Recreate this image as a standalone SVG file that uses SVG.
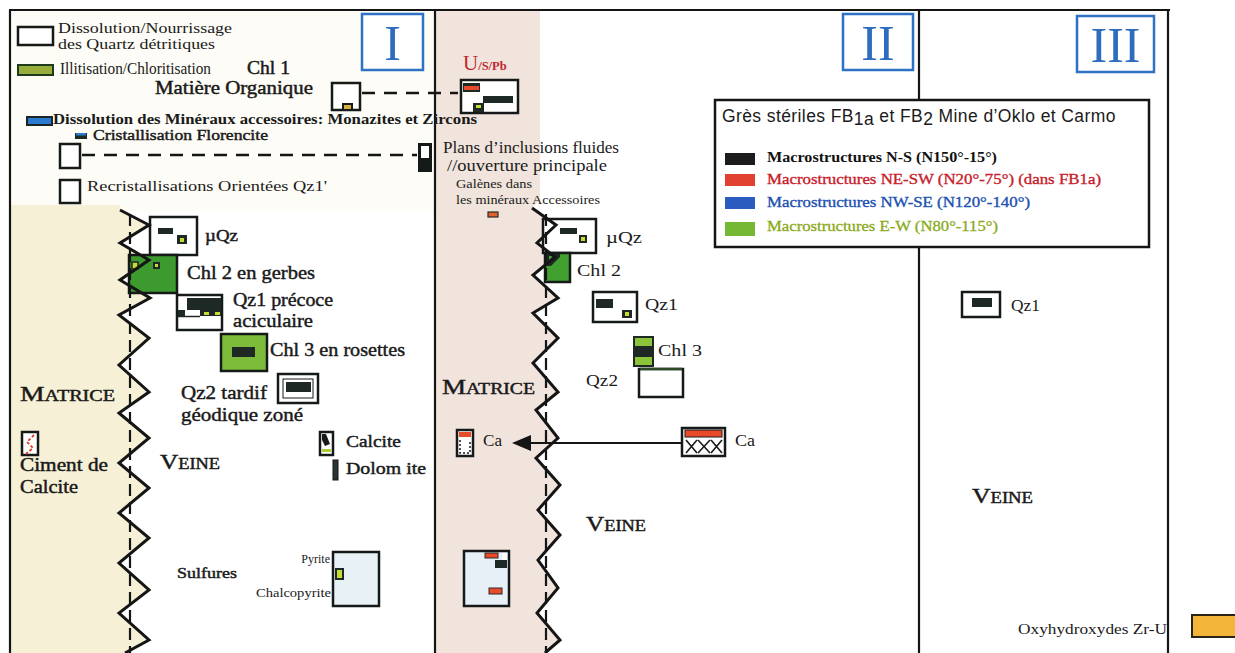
<svg xmlns="http://www.w3.org/2000/svg" width="1235" height="653" viewBox="0 0 1235 653">
<style>
.t{font-family:"Liberation Serif","DejaVu Serif",serif;fill:#1a1a1a}
.b{font-weight:bold}
.m{stroke:#1a1a1a;stroke-width:0.45}
.box{fill:#fff;stroke:#151a18;stroke-width:2.5}
.dk{fill:#1e2824}
.yg{fill:#c6dc34}
.frame{stroke:#151515;stroke-width:2.2;fill:none}
.num{fill:#fff;stroke:#2e72c6;stroke-width:2.5}
.numt{font-family:"Liberation Serif","DejaVu Serif",serif;fill:#2e6cc0;font-size:50px}
.dash{stroke:#151515;stroke-width:2.5;fill:none;stroke-dasharray:13 9}
.zig{stroke:#151515;stroke-width:3;fill:none;stroke-linejoin:miter}
.vd{stroke:#151515;stroke-width:2.2;fill:none;stroke-dasharray:12 6}
.lg{font-family:"Liberation Serif","DejaVu Serif",serif;font-size:15px}
</style>
<rect width="1235" height="653" fill="#ffffff"/>
<!-- backgrounds -->
<rect x="11" y="11" width="424" height="200" fill="#fdfcf6"/>
<path d="M11,205 L120,205 120,210 149,225 120,243 149,260 120,280 150,298 119,315 149,338 119,365 149,392 119,413 149,438 119,463 149,488 119,513 149,538 119,563 149,590 119,613 149,640 125,653 11,653 Z" fill="#f6f1d6"/>
<path d="M436,11 L540,11 540,200 532,208 556,225 537,243 555,257 533,275 558,298 533,313 558,338 533,363 558,392 536,410 558,438 536,458 560,485 538,510 560,535 538,560 558,588 537,613 560,640 545,653 436,653 Z" fill="#f0e4dc"/>
<!-- frame -->
<g id="frame">
<path class="frame" d="M9,10 L1170,10"/>
<path class="frame" d="M10,10 L10,653"/>
<path class="frame" d="M435,10 L435,653"/>
<path class="frame" d="M919,10 L919,653"/>
<path class="frame" d="M1168,10 L1168,653"/>
</g>
<g id="num-I"><rect class="num" x="362" y="14" width="61" height="56"/><text class="numt" x="392.5" y="60" text-anchor="middle">I</text></g>
<g id="num-II"><rect class="num" x="843" y="14" width="70" height="56"/><text class="numt" x="878" y="60" text-anchor="middle">II</text></g>
<g id="num-III"><rect class="num" x="1077" y="16" width="77" height="56"/><text class="numt" x="1115.5" y="62" text-anchor="middle">III</text></g>

<!-- legend left -->
<g id="leg-dissolution">
<rect class="box" x="18" y="27" width="35" height="18"/>
<text class="t" x="58" y="33" font-size="15.5" textLength="174" lengthAdjust="spacingAndGlyphs">Dissolution/Nourrissage</text>
<text class="t" x="58" y="49" font-size="15.5" textLength="157" lengthAdjust="spacingAndGlyphs">des Quartz détritiques</text>
</g>
<g id="leg-illitisation">
<rect x="18" y="65" width="35" height="10" fill="#98ac3c" stroke="#1d3a1a" stroke-width="2"/>
<text class="t" x="60" y="74" font-size="16" textLength="151" lengthAdjust="spacingAndGlyphs">Illitisation/Chloritisation</text>
<text class="t m" x="247" y="74" font-size="18" textLength="43" lengthAdjust="spacingAndGlyphs">Chl 1</text>
</g>
<g id="matiere-organique">
<text class="t m" x="155" y="94" font-size="18" textLength="158" lengthAdjust="spacingAndGlyphs">Matière Organique</text>
<rect class="box" x="332" y="83" width="28" height="27"/>
<rect x="343" y="104" width="9" height="6" fill="#d8b040" stroke="#151a18" stroke-width="2"/>
</g>
<g id="leg-mineraux">
<rect x="27" y="117" width="25" height="8" fill="#2a7ad0" stroke="#1a2424" stroke-width="2"/>
<text class="t b" x="53" y="124" font-size="15.5" textLength="424" lengthAdjust="spacingAndGlyphs">Dissolution des Minéraux accessoires: Monazites et Zircons</text>
</g>
<g id="florencite">
<rect x="75" y="133" width="12" height="6" fill="#1e2824"/>
<rect x="76" y="133" width="10" height="2.5" fill="#2a7ad0"/>
<text class="t m" x="93" y="140" font-size="15" textLength="175" lengthAdjust="spacingAndGlyphs">Cristallisation Florencite</text>
<rect class="box" x="60" y="144" width="20" height="24" stroke-width="3"/>
</g>
<g id="inclusion-box">
<rect x="418" y="143" width="14" height="29" fill="#141a18"/>
<rect x="421" y="146" width="8" height="12" fill="#fff"/>
</g>
<g id="recristallisation">
<rect class="box" x="60" y="180" width="20" height="23"/>
<text class="t" x="87" y="191" font-size="14.5" textLength="240" lengthAdjust="spacingAndGlyphs">Recristallisations Orientées Qz1'</text>
</g>

<!-- column I nodes -->
<g id="muqz-1">
<rect class="box" x="150" y="217" width="47" height="38"/>
<rect class="dk" x="158" y="228" width="15" height="6"/>
<rect class="dk" x="177" y="235" width="10" height="9"/>
<rect class="yg" x="180" y="238" width="4" height="4"/>
<text class="t m" x="205" y="241" font-size="17" textLength="33" lengthAdjust="spacingAndGlyphs">µQz</text>
</g>
<g id="chl2-1">
<rect x="129" y="255" width="48" height="38" fill="#3c9a2e" stroke="#151a18" stroke-width="2.5"/>
<rect x="132" y="262" width="6" height="7" fill="#c6dc34" stroke="#1e2824" stroke-width="1.5"/>
<rect class="dk" x="153" y="262" width="7" height="7"/>
<rect class="yg" x="155" y="264" width="3" height="3"/>
<text class="t m" x="187" y="279" font-size="19" textLength="128" lengthAdjust="spacingAndGlyphs">Chl 2 en gerbes</text>
</g>
<g id="qz1-1">
<rect class="box" x="177" y="295" width="45" height="35"/>
<rect class="dk" x="187" y="298" width="34" height="12"/>
<rect class="dk" x="200" y="309" width="21" height="7"/>
<rect class="yg" x="204" y="312" width="5" height="3"/>
<rect class="yg" x="215" y="312" width="5" height="3"/>
<rect class="dk" x="178" y="310" width="7" height="6"/>
<path d="M178,316.5 L200,316.5" stroke="#1e2824" stroke-width="1.5"/>
<text class="t m" x="233" y="306" font-size="19" textLength="100" lengthAdjust="spacingAndGlyphs">Qz1 précoce</text>
<text class="t m" x="233" y="327" font-size="19" textLength="80" lengthAdjust="spacingAndGlyphs">aciculaire</text>
</g>
<g id="chl3-1">
<rect x="221" y="334" width="46" height="37" fill="#7cbc3a" stroke="#151a18" stroke-width="2.5"/>
<rect class="dk" x="232" y="347" width="23" height="10"/>
<text class="t m" x="270" y="356" font-size="19" textLength="135" lengthAdjust="spacingAndGlyphs">Chl 3 en rosettes</text>
</g>
<g id="qz2-1">
<rect class="box" x="278" y="374" width="40" height="29" stroke-width="3"/>
<rect x="283" y="379" width="30" height="19" fill="none" stroke="#151a18" stroke-width="1"/>
<rect class="dk" x="286" y="382" width="25" height="10"/>
<text class="t m" x="181" y="399" font-size="19" textLength="86" lengthAdjust="spacingAndGlyphs">Qz2 tardif</text>
<text class="t m" x="181" y="421" font-size="19" textLength="122" lengthAdjust="spacingAndGlyphs">géodique zoné</text>
</g>
<g id="matrice-1">
<text class="t m" x="20" y="401" font-size="16" textLength="95" lengthAdjust="spacingAndGlyphs"><tspan font-size="22">M</tspan>ATRICE</text>
</g>
<g id="ciment">
<rect class="box" x="22" y="432" width="16" height="23" stroke-width="2"/>
<path d="M34,435 L27,442 33,448 26,454" stroke="#e03a28" stroke-width="1.8" fill="none" stroke-dasharray="3 2"/>
<text class="t m" x="20" y="471" font-size="18" textLength="88" lengthAdjust="spacingAndGlyphs">Ciment de</text>
<text class="t m" x="20" y="493" font-size="18" textLength="58" lengthAdjust="spacingAndGlyphs">Calcite</text>
</g>
<g id="veine-1">
<text class="t m" x="160" y="469" font-size="16" textLength="60" lengthAdjust="spacingAndGlyphs"><tspan font-size="22">V</tspan>EINE</text>
</g>
<g id="calcite-1">
<rect class="box" x="320" y="432" width="13" height="23" stroke-width="2"/>
<path d="M322,434 L326,434 330,444 325,446 322,440 Z" fill="#1a1a1a"/>
<rect x="322" y="449" width="9" height="3" fill="#a8d030"/>
<text class="t m" x="346" y="447" font-size="17" textLength="55" lengthAdjust="spacingAndGlyphs">Calcite</text>
</g>
<g id="dolomite-1">
<rect x="333" y="460" width="5" height="20" fill="#2a3430" stroke="#141414" stroke-width="1"/>
<text class="t m" x="346" y="474" font-size="17" textLength="80" lengthAdjust="spacingAndGlyphs">Dolom ite</text>
</g>
<g id="sulfures-1">
<text class="t m" x="177" y="578" font-size="15" textLength="60" lengthAdjust="spacingAndGlyphs">Sulfures</text>
<rect x="333" y="552" width="46" height="54" fill="#e8f1f6" stroke="#151a18" stroke-width="2.5"/>
<rect x="336" y="569" width="7" height="10" fill="#c6dc34" stroke="#1e2824" stroke-width="2"/>
<text class="t" x="330" y="563" font-size="12" text-anchor="end">Pyrite</text>
<text class="t" x="331" y="597" font-size="12.5" text-anchor="end" textLength="75" lengthAdjust="spacingAndGlyphs">Chalcopyrite</text>
</g>

<!-- column II nodes -->
<g id="uspb">
<text x="463" y="70" font-family="Liberation Serif, DejaVu Serif, serif" font-size="21" fill="#c02830">U<tspan font-size="12.5" font-weight="bold">/S/Pb</tspan></text>
<rect class="box" x="461" y="80" width="57" height="33"/>
<rect class="dk" x="463" y="83" width="17" height="9"/>
<rect x="464" y="86" width="15" height="4" fill="#e84a2a"/>
<rect class="dk" x="483" y="96" width="30" height="7"/>
<rect class="dk" x="473" y="103" width="11" height="9"/>
<rect class="yg" x="476" y="105" width="5" height="3"/>
</g>
<g id="plans">
<text class="t" x="443" y="153" font-size="16" textLength="176" lengthAdjust="spacingAndGlyphs">Plans d’inclusions fluides</text>
<text class="t" x="447" y="171" font-size="16" textLength="160" lengthAdjust="spacingAndGlyphs">//ouverture principale</text>
</g>
<g id="galenes">
<text class="t" x="456" y="188" font-size="11.5" textLength="76" lengthAdjust="spacingAndGlyphs">Galènes dans</text>
<text class="t" x="456" y="204" font-size="11.5" textLength="144" lengthAdjust="spacingAndGlyphs">les minéraux Accessoires</text>
<rect x="488" y="212" width="10" height="5" fill="#e0642a" stroke="#2a2a2a" stroke-width="1.2"/>
</g>
<g id="muqz-2">
<rect class="box" x="543" y="219" width="53" height="34"/>
<rect class="dk" x="560" y="228" width="17" height="6"/>
<rect class="dk" x="579" y="235" width="8" height="8"/>
<rect class="yg" x="581" y="237" width="4" height="4"/>
<text class="t" x="606" y="243" font-size="17" textLength="36" lengthAdjust="spacingAndGlyphs">µQz</text>
</g>
<g id="chl2-2">
<rect x="545" y="253" width="25" height="29" fill="#40a030" stroke="#151a18" stroke-width="2.5"/>
<path d="M546,254 L560,254 560,257 551,266 546,266 Z" fill="#1e2824"/>
<rect x="549" y="256" width="5" height="4" fill="#40a030"/>
<text class="t" x="577" y="276" font-size="17.5" textLength="44" lengthAdjust="spacingAndGlyphs">Chl 2</text>
</g>
<g id="qz1-2">
<rect class="box" x="593" y="292" width="44" height="30"/>
<rect class="dk" x="596" y="299" width="17" height="9"/>
<rect class="dk" x="622" y="310" width="10" height="8"/>
<rect class="yg" x="625" y="312" width="4" height="4"/>
<text class="t" x="645" y="310" font-size="17.5" textLength="33" lengthAdjust="spacingAndGlyphs">Qz1</text>
</g>
<g id="chl3-2">
<rect x="633" y="336" width="21" height="31" fill="#1e2824"/>
<rect x="635" y="338" width="17" height="8" fill="#8cc43a"/>
<rect x="635" y="357" width="17" height="8" fill="#8cc43a"/>
<text class="t" x="658" y="356" font-size="17.5" textLength="44" lengthAdjust="spacingAndGlyphs">Chl 3</text>
</g>
<g id="qz2-2">
<rect class="box" x="639" y="369" width="44" height="28"/>
<path d="M640,369 L682,369" stroke="#2e4a24" stroke-width="2.5"/>
<text class="t" x="586" y="386" font-size="16.5" textLength="32" lengthAdjust="spacingAndGlyphs">Qz2</text>
</g>
<g id="matrice-2">
<text class="t m" x="442" y="394" font-size="16" textLength="93" lengthAdjust="spacingAndGlyphs"><tspan font-size="22">M</tspan>ATRICE</text>
</g>
<g id="ca-2">
<rect class="box" x="457" y="430" width="16" height="26" stroke-width="2.2"/>
<rect x="459" y="432" width="12" height="5" fill="#e84a2a"/>
<path d="M460,440 L460,453 470,453 470,440" fill="none" stroke="#1a1a1a" stroke-width="1.5" stroke-dasharray="2 2"/>
<text class="t" x="483" y="446" font-size="16" textLength="19" lengthAdjust="spacingAndGlyphs">Ca</text>
</g>
<g id="ca-vein">
<rect class="box" x="682" y="428" width="43" height="28"/>
<rect x="685" y="430" width="37" height="7" fill="#e84a2a" stroke="#1a1a1a" stroke-width="1"/>
<path d="M686,440 L697,453 M697,440 L686,453 M698,440 L710,453 M710,440 L698,453 M711,440 L722,453 M722,440 L711,453" stroke="#1a1a1a" stroke-width="1.6"/>
<text class="t" x="735" y="446" font-size="16" fill="#444" textLength="20" lengthAdjust="spacingAndGlyphs">Ca</text>
</g>
<g id="veine-2">
<text class="t m" x="586" y="531" font-size="16" textLength="60" lengthAdjust="spacingAndGlyphs"><tspan font-size="22">V</tspan>EINE</text>
</g>
<g id="box-bottom-2">
<rect x="464" y="551" width="45" height="55" fill="#e6f0f6" stroke="#151a18" stroke-width="2.5"/>
<rect x="485" y="553" width="13" height="5" fill="#e84a2a" stroke="#2a2a2a" stroke-width="1"/>
<rect x="502" y="553" width="5" height="7" fill="#fff"/>
<rect class="dk" x="495" y="560" width="12" height="8"/>
<rect x="489" y="588" width="13" height="6" fill="#e84a2a" stroke="#2a2a2a" stroke-width="1"/>
</g>

<!-- legend box -->
<g id="legend">
<rect x="715" y="100" width="434" height="147" fill="#fff" stroke="#151515" stroke-width="2.5"/>
<text x="722" y="122" font-family="Liberation Sans, Arial, sans-serif" font-size="17.5" letter-spacing="0.4" fill="#1a1a1a">Grès stériles FB<tspan dy="3">1a</tspan><tspan dy="-3"> et FB</tspan><tspan dy="3">2</tspan><tspan dy="-3"> Mine d’Oklo et Carmo</tspan></text>
<rect x="725" y="153" width="30" height="12" fill="#1c1c1c"/>
<text class="lg b" x="767" y="162" fill="#111" textLength="230" lengthAdjust="spacingAndGlyphs">Macrostructures N-S (N150°-15°)</text>
<rect x="725" y="174" width="30" height="12" fill="#e04030"/>
<text class="lg" x="767" y="184" fill="#c8202a" stroke="#c8202a" stroke-width="0.35" textLength="334" lengthAdjust="spacingAndGlyphs">Macrostructures NE-SW (N20°-75°) (dans FB1a)</text>
<rect x="725" y="197" width="30" height="12" fill="#2a5cc0"/>
<text class="lg" x="767" y="207" fill="#2050b0" stroke="#2050b0" stroke-width="0.35" textLength="263" lengthAdjust="spacingAndGlyphs">Macrostructures NW-SE (N120°-140°)</text>
<rect x="725" y="222" width="30" height="14" fill="#74b834"/>
<text class="lg" x="767" y="231" fill="#8aaa1a" stroke="#8aaa1a" stroke-width="0.3" textLength="231" lengthAdjust="spacingAndGlyphs">Macrostructures E-W (N80°-115°)</text>
</g>

<!-- column III -->
<g id="qz1-3">
<rect class="box" x="962" y="292" width="38" height="25"/>
<rect class="dk" x="972" y="298" width="20" height="9"/>
<text class="t" x="1011" y="311" font-size="17" textLength="29" lengthAdjust="spacingAndGlyphs">Qz1</text>
</g>
<g id="veine-3">
<text class="t m" x="972" y="503" font-size="16" textLength="61" lengthAdjust="spacingAndGlyphs"><tspan font-size="22">V</tspan>EINE</text>
</g>
<g id="oxyhydroxydes">
<text class="t" x="1018" y="634" font-size="15" textLength="149" lengthAdjust="spacingAndGlyphs">Oxyhydroxydes Zr-U</text>
<rect x="1192" y="615" width="48" height="22" fill="#f2b53a" stroke="#2a2418" stroke-width="2"/>
</g>

<!-- connectors -->
<g id="connectors">
<path class="dash" d="M362,93 L458,93"/>
<path class="dash" d="M82,155 L417,155"/>
<path class="vd" d="M130,214 L130,653"/>
<path class="vd" d="M546,214 L546,653"/>
<path class="zig" d="M120,210 149,225 120,243 149,260 120,280 150,298 119,315 149,338 119,365 149,392 119,413 149,438 119,463 149,488 119,513 149,538 119,563 149,590 119,613 149,640 125,653"/>
<path class="zig" d="M532,208 556,225 537,243 555,257 533,275 558,298 533,313 558,338 533,363 558,392 536,410 558,438 536,458 560,485 538,510 560,535 538,560 558,588 537,613 560,640 545,653"/>
<path d="M528,443 L682,443" stroke="#151515" stroke-width="2"/>
<polygon points="512,443 531,435 531,451" fill="#151515"/>
</g>
</svg>
